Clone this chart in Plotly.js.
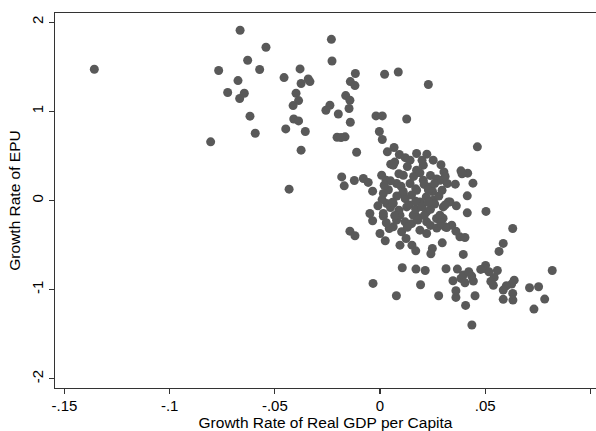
<!DOCTYPE html>
<html>
<head>
<meta charset="utf-8">
<script src="https://cdn.plot.ly/plotly-3.0.1.min.js"></script>
<style>html,body{margin:0;padding:0;background:#fff;}#chart{width:596px;height:431px;}</style>
</head>
<body>
<div id="chart"></div>
<script>
// Growth rate of real GDP per capita (x) and growth rate of EPU (y)
const gdpGrowth = [
-0.1358,-0.0665,-0.0542,-0.0629,-0.0767,-0.0572,-0.0675,-0.0724,-0.0645,-0.0667,
-0.0618,-0.0593,-0.0805,-0.0456,-0.0380,-0.0375,-0.0341,-0.0333,-0.0399,-0.0387,
-0.0413,-0.0410,-0.0387,-0.0448,-0.0355,-0.0375,-0.0432,-0.0231,-0.0228,-0.0117,
-0.0141,-0.0119,-0.0163,-0.0143,-0.0147,-0.0238,-0.0257,-0.0198,-0.0141,-0.0204,
-0.0166,-0.0185,-0.0111,0.0022,0.0087,-0.0019,0.0011,-0.0003,0.0011,-0.0182,
-0.0170,-0.0122,-0.0079,-0.0035,-0.0048,0.0230,0.0127,0.0463,0.0385,0.0417,
0.0390,0.0358,0.0442,0.0415,0.0363,0.0415,0.0504,0.0304,0.0295,0.0325,
0.0223,0.0174,0.0067,0.0092,0.0035,0.0051,0.0253,
0.0631,0.0586,0.0566,0.0396,0.0296,0.0249,0.0242,0.0380,0.0404,0.0361,
0.0341,0.0317,0.0819,0.0754,0.0711,0.0783,0.0732,0.0638,0.0626,0.0601,
0.0631,0.0632,0.0586,0.0586,0.0558,0.0543,0.0527,0.0539,0.0502,0.0496,
0.0518,0.0479,0.0452,0.0407,0.0437,0.0361,0.0361,0.0279,0.0193,0.0078,
0.0106,0.0171,0.0215,0.0314,0.0368,0.0347,0.0385,0.0396,0.0404,0.0444,
0.0436,0.0422,0.0025,0.0000,0.0095,0.0124,0.0152,0.0170,-0.0143,-0.0119,
-0.0035,0.0016,-0.0033,0.0044,
0.0079,0.0119,0.0063,0.0174,0.0222,0.0269,0.0190,0.0222,0.0309,0.0103,
-0.0056,0.0008,0.0029,0.0016,0.0032,0.0016,
0.0206,0.0285,0.0063,0.0143,0.0174,0.0111,0.0079,0.0143,0.0206,0.0238,
0.0111,0.0174,0.0063,0.0127,0.0190,0.0253,0.0301,0.0222,0.0158,0.0095,
0.0285,0.0333,
0.0090,0.0130,0.0160,0.0190,0.0240,0.0270,0.0050,0.0100,0.0170,0.0210,
0.0250,0.0280,0.0040,0.0080,0.0120,0.0150,0.0220,0.0260,0.0050,0.0090,
0.0140,0.0170,0.0200,0.0240,0.0310,0.0150,0.0210,0.0240,0.0270,0.0300,
0.0030,0.0070,0.0180,0.0130,0.0010,-0.0010,0.0020,0.0070,0.0120,0.0200,
0.0290,0.0320,0.0310,0.0230,0.0110,0.0260,0.0170,0.0290,0.0060,0.0230
];
const epuGrowth = [
1.471,1.908,1.718,1.572,1.457,1.468,1.344,1.210,1.202,1.143,
0.945,0.754,0.657,1.378,1.475,1.311,1.362,1.333,1.202,1.120,
1.064,0.914,0.892,0.802,0.773,0.564,0.127,1.807,1.564,1.423,
1.333,1.288,1.176,1.124,1.031,1.068,1.012,0.970,0.877,0.709,
0.713,0.705,0.541,1.415,1.441,0.948,0.948,0.773,0.683,0.264,
0.164,0.224,0.246,0.104,-0.146,1.300,0.914,0.601,0.332,0.306,
0.300,0.183,0.194,0.052,-0.060,-0.139,-0.123,0.320,0.115,-0.016,
0.519,0.527,0.594,0.515,0.545,0.407,0.452,
-0.314,-0.482,-0.571,-0.605,-0.475,-0.538,-0.598,-0.408,-0.415,-0.344,
-0.277,-0.303,-0.785,-0.968,-0.979,-1.106,-1.218,-0.894,-0.938,-0.957,
-1.042,-1.117,-1.109,-1.005,-0.785,-0.863,-0.908,-0.952,-0.728,-0.762,
-0.800,-0.773,-1.069,-1.177,-1.397,-1.087,-1.013,-1.069,-0.945,-1.069,
-0.755,-0.770,-0.785,-0.766,-0.770,-0.900,-0.874,-0.837,-0.923,-0.904,
-0.848,-0.800,-0.452,-0.370,-0.501,-0.426,-0.501,-0.565,-0.344,-0.396,
-0.228,-0.176,-0.930,-0.314,
-0.221,-0.240,-0.296,-0.184,-0.240,-0.202,-0.333,-0.370,-0.296,-0.351,
0.202,0.283,0.227,0.078,-0.034,-0.146,
0.396,0.227,0.396,0.452,0.340,0.283,0.190,0.190,0.227,0.152,
0.078,0.115,-0.034,-0.072,-0.016,0.003,-0.072,-0.128,-0.165,-0.165,
-0.165,-0.016,
0.300,0.380,0.270,0.310,0.280,0.240,0.220,0.160,0.130,0.180,
0.100,0.050,0.120,0.050,0.020,0.060,0.040,-0.040,-0.080,-0.110,
-0.050,-0.100,-0.070,-0.100,-0.050,-0.260,-0.170,-0.280,-0.310,-0.200,
-0.250,-0.170,-0.220,-0.300,0.010,-0.060,0.170,0.430,0.480,0.450,
0.400,0.190,0.270,0.120,0.100,0.190,-0.010,-0.250,-0.020,-0.020
];
const xTickVals = [-0.15,-0.1,-0.05,0,0.05,0.1];
const xTickText = ["-.15","-.1","-.05","0",".05",".1"];
const yTickVals = [-2,-1,0,1,2];
const yTickText = ["-2","-1","0","1","2"];

const fam = "Liberation Sans, Arial, Helvetica, sans-serif";
const tickFont = {family: fam, size: 15, color: "#000"};
const titleFont = {family: fam, size: 15.5, color: "#000"};

Plotly.newPlot("chart", [{
  type: "scatter",
  mode: "markers",
  x: gdpGrowth,
  y: epuGrowth,
  marker: {size: 9, color: "#595959", line: {width: 0}},
  hoverinfo: "skip"
}], {
  width: 596, height: 431,
  margin: {l: 55, r: 0, t: 13, b: 43},
  paper_bgcolor: "#fff", plot_bgcolor: "#fff",
  showlegend: false,
  font: tickFont,
  xaxis: {
    range: [-0.1545, 0.1027],
    tickvals: xTickVals, ticktext: xTickText,
    showgrid: false, zeroline: false,
    showline: true, linecolor: "#333", linewidth: 1.3, mirror: true,
    ticks: "outside", ticklen: 5, tickwidth: 1.2, tickcolor: "#333",
    ticklabelstandoff: -1,
    tickfont: tickFont,
    title: {text: "Growth Rate of Real GDP per Capita", font: titleFont, standoff: 2}
  },
  yaxis: {
    range: [-2.103, 2.102],
    tickvals: yTickVals, ticktext: yTickText,
    showgrid: false, zeroline: false,
    showline: true, linecolor: "#333", linewidth: 1.3,
    ticks: "outside", ticklen: 5, tickwidth: 1.2, tickcolor: "#333",
    tickangle: -90,
    tickfont: tickFont,
    title: {text: "Growth Rate of EPU", font: titleFont, standoff: 4}
  }
}, {displayModeBar: false, staticPlot: true});
</script>
</body>
</html>
